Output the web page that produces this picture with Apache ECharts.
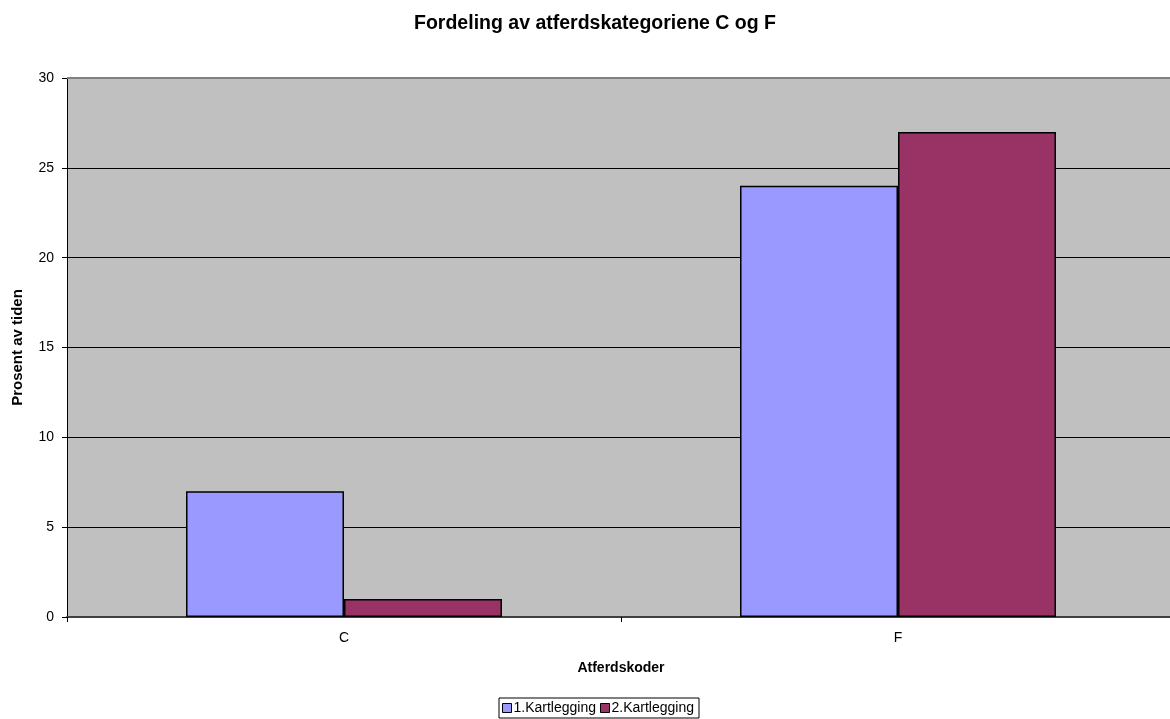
<!DOCTYPE html>
<html><head><meta charset="utf-8">
<script src="https://cdn.jsdelivr.net/npm/echarts@6/dist/echarts.min.js"></script>
<style>html,body{margin:0;padding:0;background:#fff}#c{width:1170px;height:719px}</style>
</head><body><div id="c"></div>
<script>
const categories = ['C', 'F'];
const series1Name = '1.Kartlegging';
const series2Name = '2.Kartlegging';
const series1 = [7, 24];
const series2 = [1, 27];
const yTicks = [0, 5, 10, 15, 20, 25, 30];

const chart = echarts.init(document.getElementById('c'), null, {renderer: 'canvas'});
const font = 'Liberation Sans, Arial, sans-serif';
chart.setOption({
  animation: false,
  backgroundColor: '#ffffff',
  title: {
    text: 'Fordeling av atferdskategoriene C og F',
    left: 590, top: 9, textAlign: 'center',
    textStyle: {fontFamily: font, fontSize: 19.5, fontWeight: 'bold', color: '#000'}
  },
  legend: {
    data: [series1Name, series2Name],
    left: 499, top: 698,
    itemWidth: 9, itemHeight: 9, itemGap: 4,
    padding: [3, 5, 3, 3],
    borderColor: '#000', borderWidth: 1,
    backgroundColor: '#fff',
    textStyle: {fontFamily: font, fontSize: 14, color: '#000', padding: [0, 0, 0, -3]},
    icon: 'rect',
    itemStyle: {borderColor: '#000', borderWidth: 1}
  },
  grid: {left: 67, top: 78, width: 1108, height: 539, show: true, backgroundColor: '#c0c0c0', borderWidth: 0,
         containLabel: false, outerBoundsMode: 'none'},
  xAxis: {
    type: 'category', data: categories,
    name: 'Atferdskoder', nameLocation: 'middle', nameGap: 44,
    nameTextStyle: {fontFamily: font, fontSize: 14, fontWeight: 'bold', color: '#000'},
    axisLine: {lineStyle: {color: '#404040', width: 2}},
    axisTick: {show: true, length: 5, lineStyle: {color: '#000'}},
    axisLabel: {fontFamily: font, fontSize: 14, color: '#000', margin: 14},
    splitLine: {show: false}
  },
  yAxis: {
    type: 'value', min: 0, max: 30, interval: 5,
    name: 'Prosent av tiden', nameLocation: 'middle', nameGap: 42,
    nameTextStyle: {fontFamily: font, fontSize: 15, fontWeight: 'bold', color: '#000'},
    axisLine: {show: true, lineStyle: {color: '#000', width: 1}},
    axisTick: {show: true, length: 5, lineStyle: {color: '#000'}},
    axisLabel: {fontFamily: font, fontSize: 14, color: '#000', margin: 13,
      formatter: v => yTicks.includes(v) ? String(v) : ''},
    splitLine: {show: true, lineStyle: {color: '#000', width: 1}}
  },
  series: [
    {name: series1Name, type: 'bar', data: series1, barWidth: 158, barGap: '0%',
     itemStyle: {color: '#9999ff', borderColor: '#000', borderWidth: 1.5}},
    {name: series2Name, type: 'bar', data: series2, barWidth: 158, barGap: '0%',
     itemStyle: {color: '#993366', borderColor: '#000', borderWidth: 1.5}}
  ],
  graphic: [
    {type: 'line', shape: {x1: 67, y1: 78, x2: 1175, y2: 78}, style: {stroke: '#808080', lineWidth: 2}, z: 10}
  ]
});
</script></body></html>
